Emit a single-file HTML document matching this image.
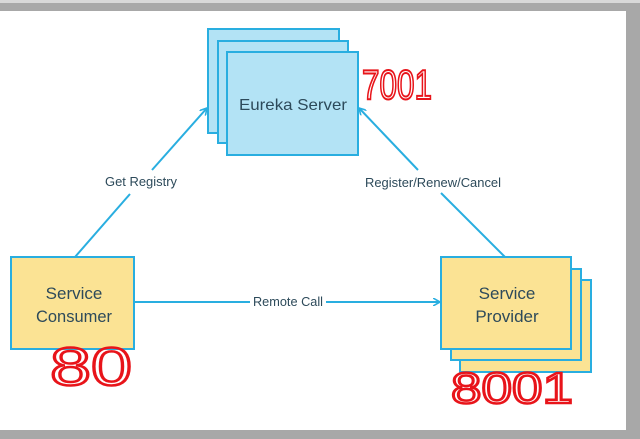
<!DOCTYPE html>
<html><head><style>
html,body{margin:0;padding:0;background:#fff;}
body{width:640px;height:439px;position:relative;overflow:hidden;font-family:"Liberation Sans",sans-serif;}
</style></head><body>
<svg width="640" height="439" viewBox="0 0 640 439" xmlns="http://www.w3.org/2000/svg" style="position:absolute;left:0;top:0">
<defs>
<marker id="a" markerWidth="8" markerHeight="8" refX="7" refY="4" orient="auto" markerUnits="userSpaceOnUse">
<path d="M0,0 L7,4 L0,8" fill="none" stroke="#29aee0" stroke-width="1.6"/>
</marker>
</defs>
<rect x="0" y="0" width="640" height="439" fill="#fff"/>
<rect x="0" y="0" width="640" height="3" fill="#d8d8d8"/>
<rect x="0" y="3" width="640" height="8" fill="#a8a8a8"/>
<rect x="626" y="3" width="14" height="436" fill="#a8a8a8"/>
<rect x="0" y="430" width="640" height="9" fill="#a8a8a8"/>

<g stroke="#29aee0" stroke-width="2" fill="#b3e3f5">
<rect x="208" y="29" width="131" height="104"/>
<rect x="218" y="41" width="130" height="102"/>
<rect x="227" y="52" width="131" height="103"/>
</g>
<text x="293" y="110" font-size="16" fill="#2d4a5a" text-anchor="middle" textLength="108" lengthAdjust="spacingAndGlyphs">Eureka Server</text>

<g stroke="#29aee0" stroke-width="2" fill="#fbe394">
<rect x="11" y="257" width="123" height="92"/>
<rect x="460" y="280" width="131" height="92"/>
<rect x="451" y="269" width="130" height="91"/>
<rect x="441" y="257" width="130" height="92"/>
</g>
<text x="74" y="299" font-size="17" fill="#2d4a5a" text-anchor="middle">Service</text>
<text x="74" y="322" font-size="17" fill="#2d4a5a" text-anchor="middle" textLength="76" lengthAdjust="spacingAndGlyphs">Consumer</text>
<text x="507" y="299" font-size="17" fill="#2d4a5a" text-anchor="middle">Service</text>
<text x="507" y="322" font-size="17" fill="#2d4a5a" text-anchor="middle">Provider</text>

<g stroke="#29aee0" stroke-width="2" fill="none">
<line x1="75" y1="257" x2="130" y2="194"/>
<line x1="152" y1="170" x2="207" y2="108" marker-end="url(#a)"/>
<line x1="505" y1="257" x2="441" y2="193"/>
<line x1="418" y1="170" x2="359" y2="108" marker-end="url(#a)"/>
<line x1="134" y1="302" x2="250" y2="302"/>
<line x1="326" y1="302" x2="440" y2="302" marker-end="url(#a)"/>
</g>
<text x="141" y="186" font-size="13" fill="#2d4a5a" text-anchor="middle" textLength="72" lengthAdjust="spacingAndGlyphs">Get Registry</text>
<text x="433" y="187" font-size="13" fill="#2d4a5a" text-anchor="middle" textLength="136" lengthAdjust="spacingAndGlyphs">Register/Renew/Cancel</text>
<text x="288" y="306" font-size="13" fill="#2d4a5a" text-anchor="middle" textLength="70" lengthAdjust="spacingAndGlyphs">Remote Call</text>

<text x="362" y="99" font-size="42" fill="none" stroke="#e8141a" stroke-width="2" textLength="70" lengthAdjust="spacingAndGlyphs">7001</text>
<text x="50" y="385" font-size="54" fill="none" stroke="#e8141a" stroke-width="2.5" textLength="82" lengthAdjust="spacingAndGlyphs">80</text>
<text x="451" y="403" font-size="44" fill="none" stroke="#e8141a" stroke-width="2.5" textLength="122" lengthAdjust="spacingAndGlyphs">8001</text>
</svg>
</body></html>
